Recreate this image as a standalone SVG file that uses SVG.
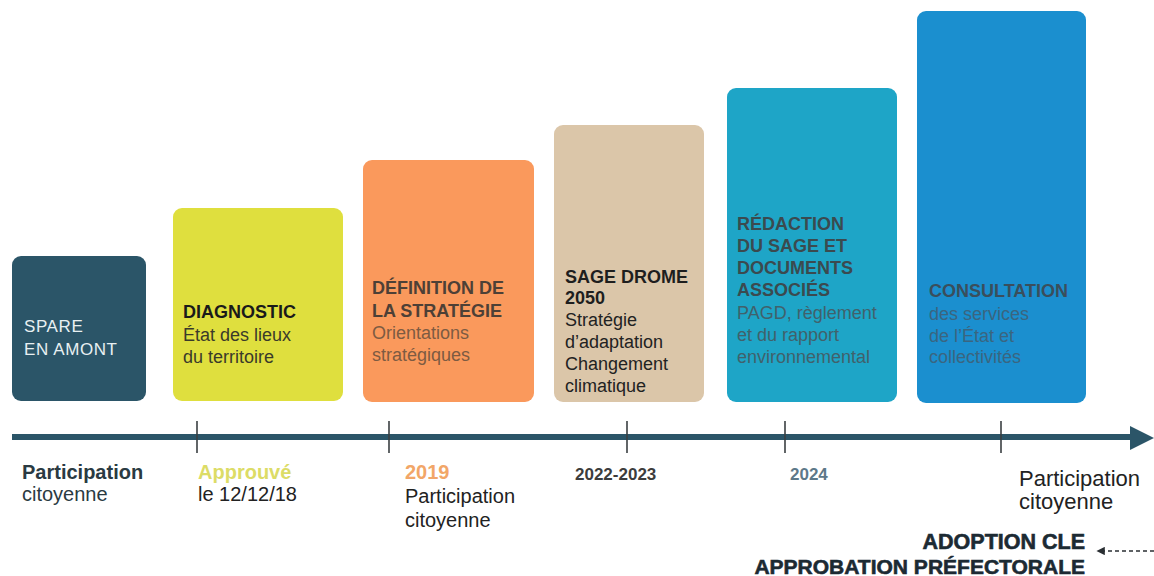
<svg xmlns="http://www.w3.org/2000/svg" width="1154" height="576" viewBox="0 0 1154 576">
<defs>
<style>
text{font-family:"Liberation Sans",Arial,sans-serif}
.h{font-weight:bold;font-size:18px}
.s{font-size:18px}
.tl{font-size:20px}
.b{font-weight:bold}
.tick{stroke:#3a3f42;stroke-width:1.6}
</style>
<marker id="ah" viewBox="0 0 10 10" refX="1" refY="5" markerWidth="6" markerHeight="6" orient="auto-start-reverse">
<path d="M0,0 L10,5 L0,10 z" fill="#2a2f33"/>
</marker>
</defs>
<rect width="1154" height="576" fill="#ffffff"/>

<g id="node-spare">
<rect x="12" y="256" width="134" height="145" rx="9" fill="#2b5568"/>
<text x="24" y="332" class="s" fill="#e8f0f2" style="letter-spacing:0.6px;font-size:17px">SPARE</text>
<text x="24" y="355" class="s" fill="#e8f0f2" style="letter-spacing:0.6px;font-size:17px">EN AMONT</text>
</g>

<g id="node-diagnostic">
<rect x="173" y="208" width="170" height="193" rx="9" fill="#dfdf3e"/>
<text x="183" y="318" class="h" fill="#1a1a1a">DIAGNOSTIC</text>
<text x="183" y="341" class="s" fill="#3a3a2a">État des lieux</text>
<text x="183" y="363" class="s" fill="#3a3a2a">du territoire</text>
</g>

<g id="node-definition">
<rect x="363" y="160" width="171" height="242" rx="9" fill="#fa995c"/>
<text x="372" y="294" class="h" fill="#4d4036">DÉFINITION DE</text>
<text x="372" y="317" class="h" fill="#4d4036">LA STRATÉGIE</text>
<text x="372" y="339" class="s" fill="#7d5b42">Orientations</text>
<text x="372" y="361" class="s" fill="#7d5b42">stratégiques</text>
</g>

<g id="node-sage">
<rect x="554" y="125" width="150" height="277" rx="9" fill="#dbc6a9"/>
<text x="565" y="283" class="h" fill="#1e1e1e">SAGE DROME</text>
<text x="565" y="304" class="h" fill="#1e1e1e">2050</text>
<text x="565" y="326" class="s" fill="#222222">Stratégie</text>
<text x="565" y="348" class="s" fill="#222222">d’adaptation</text>
<text x="565" y="370" class="s" fill="#222222">Changement</text>
<text x="565" y="392" class="s" fill="#222222">climatique</text>
</g>

<g id="node-redaction">
<rect x="727" y="88" width="170" height="314" rx="9" fill="#1ea5c7"/>
<text x="737" y="230" class="h" fill="#3b4a4f">RÉDACTION</text>
<text x="737" y="252" class="h" fill="#3b4a4f">DU SAGE ET</text>
<text x="737" y="274" class="h" fill="#3b4a4f">DOCUMENTS</text>
<text x="737" y="296" class="h" fill="#3b4a4f">ASSOCIÉS</text>
<text x="737" y="319" class="s" fill="#41616b">PAGD, règlement</text>
<text x="737" y="341" class="s" fill="#41616b">et du rapport</text>
<text x="737" y="363" class="s" fill="#41616b">environnemental</text>
</g>

<g id="node-consultation">
<rect x="917" y="11" width="169" height="392" rx="9" fill="#1b8fcf"/>
<text x="929" y="297" class="h" fill="#3a4e5c">CONSULTATION</text>
<text x="929" y="320" class="s" fill="#3a6580">des services</text>
<text x="929" y="342" class="s" fill="#3a6580">de l’État et</text>
<text x="929" y="363" class="s" fill="#3a6580">collectivités</text>
</g>

<g id="connectors">
<line x1="12" y1="437" x2="1134" y2="437" stroke="#2b5568" stroke-width="6"/>
<polygon points="1130,426 1154,438 1130,450" fill="#2b5568"/>
<line x1="197" y1="421" x2="197" y2="453" class="tick"/>
<line x1="389" y1="421" x2="389" y2="453" class="tick"/>
<line x1="627" y1="421" x2="627" y2="453" class="tick"/>
<line x1="785" y1="421" x2="785" y2="453" class="tick"/>
<line x1="1001" y1="421" x2="1001" y2="453" class="tick"/>
<line x1="1154" y1="551" x2="1104" y2="551" stroke="#2a2f33" stroke-width="1.4" stroke-dasharray="4,3" marker-end="url(#ah)"/>
</g>

<g id="labels">
<text x="22" y="479" class="tl b" fill="#2a3a42">Participation</text>
<text x="22" y="501" class="tl" fill="#2a3a42">citoyenne</text>
<text x="198" y="479" class="tl b" fill="#dcdc66">Approuvé</text>
<text x="198" y="501" class="tl" fill="#222222">le 12/12/18</text>
<text x="405" y="479" class="tl b" fill="#f2a668">2019</text>
<text x="405" y="503" class="tl" fill="#222222">Participation</text>
<text x="405" y="527" class="tl" fill="#222222">citoyenne</text>
<text x="575" y="480" class="b" style="font-size:17px" fill="#3c3c3c">2022-2023</text>
<text x="790" y="480" class="b" style="font-size:17px" fill="#5d7889">2024</text>
<text x="1019" y="486" style="font-size:22px" fill="#222222">Participation</text>
<text x="1019" y="509" style="font-size:22px" fill="#222222">citoyenne</text>
<text x="1085" y="549" text-anchor="end" class="b" style="font-size:21.5px" fill="#1c2a33" stroke="#1c2a33" stroke-width="0.6">ADOPTION CLE</text>
<text x="1085" y="574" text-anchor="end" class="b" style="font-size:21px" fill="#1c2a33" stroke="#1c2a33" stroke-width="0.6">APPROBATION PRÉFECTORALE</text>
</g>
</svg>
